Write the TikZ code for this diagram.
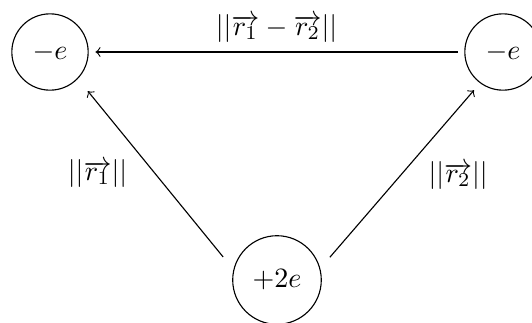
\documentclass[tikz,border=0pt]{standalone}
\usepackage{tikz}

\begin{document}
\begin{tikzpicture}[
  x=0.3571pt,
  y=0.3571pt,
  ->,
  charge node/.style={circle,draw,inner sep=4.75pt,outer sep=2.6pt},
  dist label/.style={inner sep=3.33pt,text=black},
]
\useasboundingbox (0,0) rectangle (532,322);
\node[charge node] (e1) at (50,270) {$-e$};
\node[charge node] (e2) at (503,270) {$-e$};
\node[charge node] (p) at (277,42) {$+2e$};
\draw (e2) -- node[dist label,midway,above] {$||\overrightarrow{r_1}-\overrightarrow{r_2}||$} (e1);
\draw[shorten <=2.9pt,shorten >=3.2pt] (p.161) -- node[dist label,midway,left=6.5pt] {$||\overrightarrow{r_1}||$} (e1.-45);
\draw[shorten <=2.4pt,shorten >=0.9pt] (p.20) -- node[dist label,midway,right=6.5pt] {$||\overrightarrow{r_2}||$} (e2.-127);
\end{tikzpicture}
\end{document}
